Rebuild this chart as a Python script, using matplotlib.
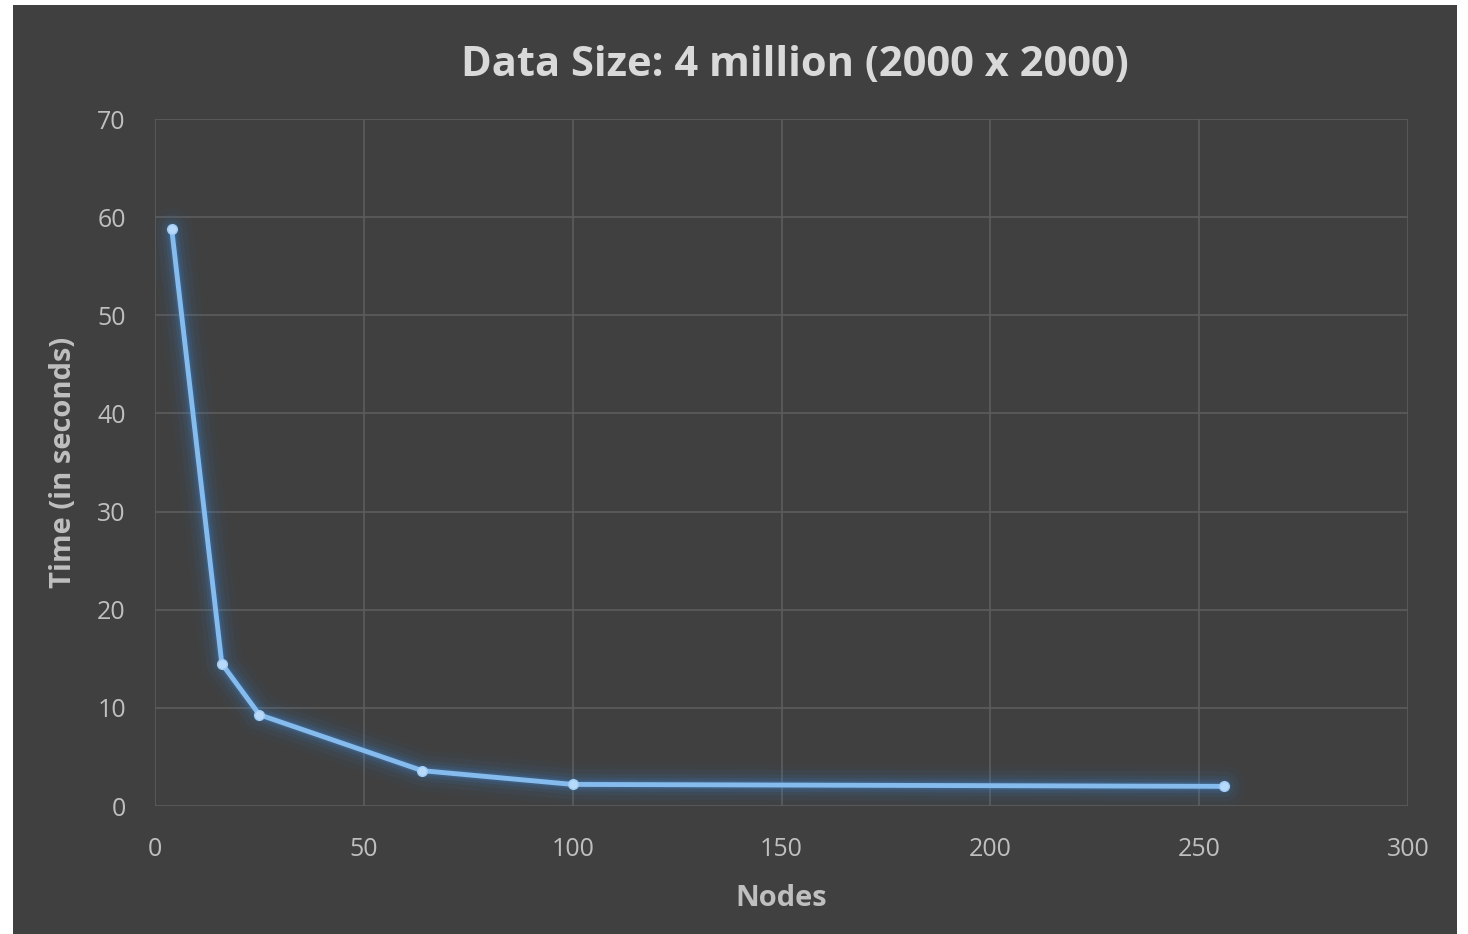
import matplotlib
matplotlib.use("Agg")
import matplotlib.pyplot as plt
from matplotlib.patches import Rectangle

nodes = [4, 16, 25, 64, 100, 256]
times = [58.8, 14.5, 9.3, 3.6, 2.2, 2.0]
title = "Data Size: 4 million (2000 x 2000)"
xlabel = "Nodes"
ylabel = "Time (in seconds)"
xticks = [0, 50, 100, 150, 200, 250, 300]
yticks = [0, 10, 20, 30, 40, 50, 60, 70]

plt.rcParams['font.family'] = ['Open Sans', 'DejaVu Sans']
W, H = 1468, 934
fig = plt.figure(figsize=(W / 100, H / 100), dpi=100, facecolor='white')
bg = '#404040'
fig.patches.append(Rectangle((13 / W, 0), (1457 - 13) / W, (934 - 5) / H,
                             transform=fig.transFigure, facecolor=bg,
                             edgecolor='none', zorder=-10))

ax = fig.add_axes([155 / W, 1 - 806 / H, (1408 - 155) / W, (806 - 119) / H])
ax.set_zorder(1)
ax.set_facecolor(bg)
ax.set_xlim(0, 300)
ax.set_ylim(0, 70)
ax.set_xticks(xticks)
ax.set_yticks(yticks)
ax.grid(True, color='#5c5c5c', linewidth=1.2)
ax.set_axisbelow(True)
for s in ax.spines.values():
    s.set_visible(False)
ax.tick_params(length=0, colors='#bfbfbf', labelsize=18)
ax.tick_params(axis='x', pad=22)
ax.tick_params(axis='y', pad=21)

# glow
for lw, a in [(30, 0.03), (22, 0.05), (15, 0.08), (10, 0.13), (6, 0.2)]:
    ax.plot(nodes, times, color='#3d8fe0', linewidth=lw, alpha=a,
            solid_capstyle='round', solid_joinstyle='round', zorder=2)
ax.plot(nodes, times, color='#86bbee', linewidth=3.5, zorder=3,
        solid_joinstyle='round')
ax.plot(nodes, times, linestyle='none', marker='o', markersize=7,
        color='#b8dafa', markeredgecolor='#a0cbf3', zorder=4)

ax.set_title(title, color='#d9d9d9', fontsize=30, fontweight='bold', pad=31, x=0.511)
ax.set_xlabel(xlabel, color='#bfbfbf', fontsize=21, fontweight='bold', labelpad=16)
ax.set_ylabel(ylabel, color='#bfbfbf', fontsize=21, fontweight='bold', labelpad=14)

fig.savefig('out.png', dpi=100, facecolor='white')
